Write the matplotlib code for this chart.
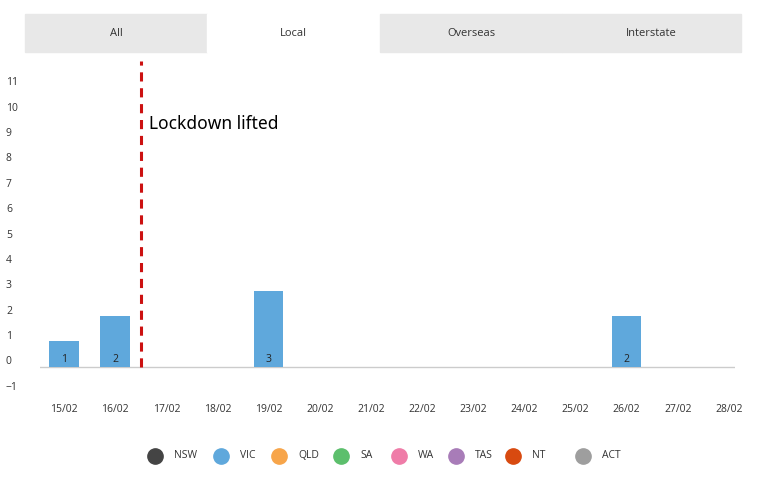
import matplotlib
matplotlib.use("Agg")
import matplotlib.pyplot as plt
from matplotlib.patches import Rectangle

dates = ["15/02","16/02","17/02","18/02","19/02","20/02","21/02","22/02","23/02","24/02","25/02","26/02","27/02","28/02"]
vic = [1,2,0,0,3,0,0,0,0,0,0,2,0,0]
yticks = list(range(-1,12))
tabs = ["All","Local","Overseas","Interstate"]
legend_labels = ["NSW","VIC","QLD","SA","WA","TAS","NT","ACT"]
legend_colors = ["#444444","#5fa8dc","#f7a54a","#5cbf6c","#ef7ca8","#a87cb8","#d84a10","#9e9e9e"]

W,H = 757,483
fig = plt.figure(figsize=(W/100,H/100), dpi=100)
fig.patch.set_facecolor("white")
plt.rcParams['font.family'] = ['Open Sans','DejaVu Sans']

# tabs
tab_edges = [25,207,380,562,741]
for i,t in enumerate(tabs):
    x0,x1 = tab_edges[i],tab_edges[i+1]
    col = "white" if t=="Local" else "#e8e8e8"
    fig.patches.append(Rectangle((x0/W,(H-52)/H),(x1-x0)/W,38/H,transform=fig.transFigure,color=col,zorder=0))
    fig.text((x0+x1)/2/W,(H-33)/H,t,ha="center",va="center",fontsize=8,color="#333333")

ax = fig.add_axes([40/W,(H-401)/H,695/W,340/H])
base = -0.25
x = list(range(len(dates)))
for xi,v in zip(x,vic):
    if v>0:
        ax.bar(xi,v,bottom=base,width=0.58,color="#5fa8dc",zorder=2)
        ax.text(xi,base+0.3,str(v),ha="center",va="center",fontsize=7.5,color="#222222")
ax.axhline(base,color="#cccccc",lw=1,zorder=1)
ax.set_xlim(-0.47,13.12)
ax.set_ylim(-1.6,11.8)
ax.set_yticks(yticks)
ax.set_xticks(x)
ax.set_xticklabels(dates)
ax.tick_params(length=0,labelsize=7.5,colors="#333333")
ax.tick_params(axis="y",pad=12)
ax.tick_params(axis="x",pad=2)
for lbl in ax.get_yticklabels():
    lbl.set_horizontalalignment("left")
    lbl.set_x(-0.025)
for s in ax.spines.values():
    s.set_visible(False)
ax.plot([1.5,1.5],[base,11.8],color="#cc1111",lw=2.2,ls=(0,(3,2.2)),zorder=3)
ax.text(1.67,9.3,"Lockdown lifted",fontsize=12.5,color="black",va="center",family=["Noto Sans","DejaVu Sans"])

lx = [155,221,279,341,399,456,513,583]
for px,l,c in zip(lx,legend_labels,legend_colors):
    fig.patches.append(matplotlib.patches.Circle((px/W,(H-456)/H),0.0,transform=fig.transFigure))
    fig.lines.append(matplotlib.lines.Line2D([px/W],[(H-456)/H],marker="o",ms=11,color=c,transform=fig.transFigure))
    fig.text((px+19)/W,(H-456)/H,l,fontsize=7.5,va="center",ha="left",color="#333333")

fig.savefig("out.png",dpi=100)
